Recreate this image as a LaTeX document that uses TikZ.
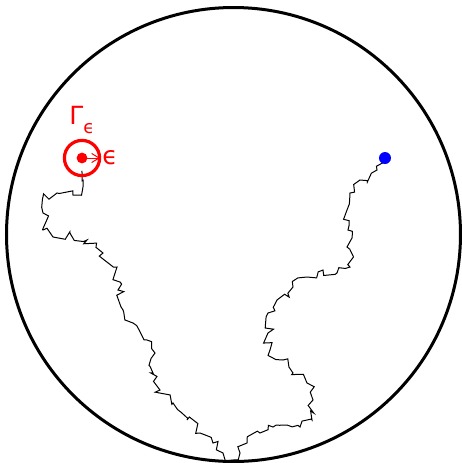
\documentclass[tikz,border=0pt]{standalone}
\usepackage{fontspec}
\setmainfont{DejaVu Sans}
\usetikzlibrary{arrows.meta,decorations.pathmorphing}

\begin{document}
\begin{tikzpicture}[
  x=0.5pt,
  y=-0.5pt,
  line cap=round,
  line join=miter,
  region border/.style={draw=black,line width=1.5pt},
  walk/.style={
    draw=black,
    line width=0.5pt,
    decorate,
    decoration={random steps,segment length=2.6pt,amplitude=2.8pt}
  },
  target/.style={draw=red,line width=1.6pt},
  radius arrow/.style={
    draw=red,
    line width=0.5pt,
    -{Straight Barb[length=1.3mm,width=1.6mm]}
  },
  label/.style={text=red,inner sep=0pt,font=\fontsize{12.5}{14}\selectfont}
]
  \path[use as bounding box] (0,0) rectangle (462,463);

  % Outer domain
  \coordinate (O) at (233.5,234.5);
  \draw[region border] (O) circle[radius=113.5pt];

  % Path of the walk, from the blue start to the small red circle
  \coordinate (start) at (385,158);
  \coordinate (hit) at (82,171);
  \pgfmathsetseed{7}
  \draw[walk] (start)
    -- (377,170) -- (360,180) -- (350,193) -- (347,210) -- (348,230)
    -- (347,247) -- (350,267) -- (337,273) -- (323,270) -- (307,277)
    -- (293,287) -- (277,300) -- (268,313) -- (268,333) -- (270,350)
    -- (283,360) -- (293,373) -- (307,383) -- (313,400) -- (312,420)
    -- (300,427) -- (287,425) -- (273,427) -- (260,433) -- (247,443)
    -- (240,453) -- (233,460) -- (223,453) -- (213,443) -- (200,433)
    -- (187,420) -- (173,403) -- (160,390) -- (153,373) -- (155,353)
    -- (147,340) -- (133,323) -- (123,310) -- (118,290) -- (117,267)
    -- (103,253) -- (87,240) -- (70,233) -- (53,237) -- (43,230)
    -- (43,213) -- (43,197) -- (57,193) -- (73,195) -- (83,187)
    -- (hit);

  % Start point
  \fill[blue] (start) circle[radius=3pt];

  % Small circle round the target point
  \coordinate (T) at (82,158);
  \draw[target] (T) circle[radius=8.8pt];
  \fill[red] (T) circle[radius=2.7pt];
  \coordinate (rim) at (100,158);
  \draw[radius arrow] (T) -- (rim);
  \node[label,anchor=west] (eps) at (102,158) {ϵ};
  \node[label] (gamma) at (82,120) {Γ\raisebox{-0.35em}{\fontsize{9}{10}\selectfont ϵ}};
\end{tikzpicture}
\end{document}
